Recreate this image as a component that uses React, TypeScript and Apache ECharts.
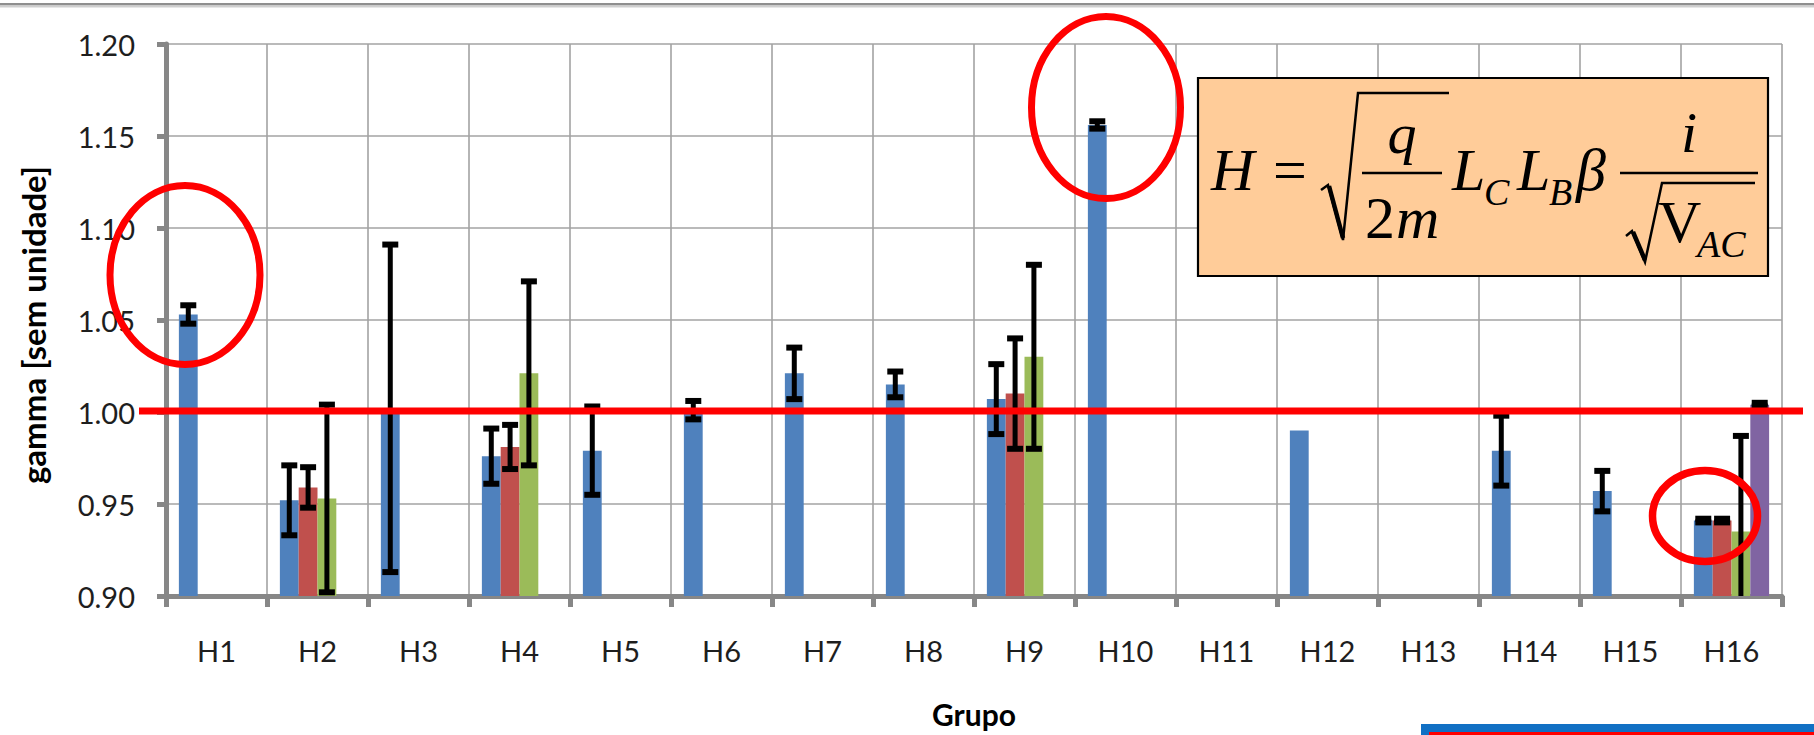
import React, { useEffect, useRef } from 'react';
import * as echarts from 'echarts';

// ---------- data ----------
const categories = ['H1', 'H2', 'H3', 'H4', 'H5', 'H6', 'H7', 'H8', 'H9', 'H10', 'H11', 'H12', 'H13', 'H14', 'H15', 'H16'];

const yMin = 0.9;
const yMax = 1.2;
const yInterval = 0.05;
const referenceValue = 1.0;

const blueValues = [1.053, 0.952, 1.002, 0.976, 0.979, 1.001, 1.021, 1.015, 1.007, 1.156, null, 0.99, null, 0.979, 0.957, 0.941];
const blueErrors = [0.005, 0.019, 0.089, 0.015, 0.024, 0.005, 0.014, 0.007, 0.019, 0.002, null, null, null, 0.019, 0.011, 0.001];

const redValues = [null, 0.959, null, 0.981, null, null, null, null, 1.01, null, null, null, null, null, null, 0.941];
const redErrors = [null, 0.011, null, 0.012, null, null, null, null, 0.03, null, null, null, null, null, null, 0.001];

const greenValues = [null, 0.953, null, 1.021, null, null, null, null, 1.03, null, null, null, null, null, null, 0.935];
const greenErrors = [null, 0.051, null, 0.05, null, null, null, null, 0.05, null, null, null, null, null, null, 0.052];

const purpleValues = [null, null, null, null, null, null, null, null, null, null, null, null, null, null, null, 1.004];
const purpleErrors = [null, null, null, null, null, null, null, null, null, null, null, null, null, null, null, 0.001];

// ---------- styles ----------
const W = 1814;
const H = 735;
const COLORS = ['#4F81BD', '#C0504D', '#9BBB59', '#8064A2'];
const CATEGORY_GAP = 0.255;
const SERIES_COUNT = 4;
const AXIS_COLOR = '#878787';
const GRID_COLOR = '#a3a3a3';
const TEXT_COLOR = '#1e1e1e';
const SERIF = '"Liberation Serif", "Times New Roman", serif';

function errorSeries(k: number, values: (number | null)[], errs: (number | null)[]) {
  const data: number[][] = [];
  values.forEach((v, i) => {
    const e = errs[i];
    if (v != null && e != null) data.push([i, v - e, v + e]);
  });
  return {
    type: 'custom',
    silent: true,
    z: 10,
    encode: { x: 0, y: [1, 2] },
    data,
    renderItem: (params: any, api: any) => {
      const idx = api.value(0);
      const rawLo = api.value(1);
      const lo = Math.max(rawLo, yMin);
      const hi = api.value(2);
      const band = api.size([1, 0])[0];
      const barW = (band * (1 - CATEGORY_GAP)) / SERIES_COUNT;
      const pLo = api.coord([idx, lo]);
      const pHi = api.coord([idx, hi]);
      const cx = pLo[0] + (k - (SERIES_COUNT - 1) / 2) * barW;
      const capHalf = 8;
      const st = { stroke: '#000', lineWidth: 5, lineCap: 'butt' };
      const capSt = { stroke: '#000', lineWidth: 6, lineCap: 'butt' };
      const children: any[] = [
        { type: 'line', shape: { x1: cx, y1: pLo[1], x2: cx, y2: pHi[1] }, style: st },
        { type: 'line', shape: { x1: cx - capHalf, y1: pHi[1], x2: cx + capHalf, y2: pHi[1] }, style: capSt },
      ];
      if (rawLo >= yMin) {
        children.push({ type: 'line', shape: { x1: cx - capHalf, y1: pLo[1], x2: cx + capHalf, y2: pLo[1] }, style: capSt });
      }
      return { type: 'group', children };
    },
  };
}

function barSeries(name: string, values: (number | null)[], color: string) {
  return {
    name,
    type: 'bar',
    data: values,
    barGap: '0%',
    barCategoryGap: `${CATEGORY_GAP * 100}%`,
    itemStyle: { color },
    silent: true,
  };
}

function serifText(text: string, x: number, baseline: number, size: number, italic: boolean, align = 'left') {
  return {
    type: 'text',
    z: 60,
    silent: true,
    style: {
      text,
      x,
      y: baseline - 0.3375 * size,
      fontFamily: SERIF,
      fontSize: size,
      fontStyle: italic ? 'italic' : 'normal',
      fill: '#000',
      align,
      verticalAlign: 'middle',
    },
  };
}

function buildGraphic(yRef: number) {
  const fl = { stroke: '#000', lineWidth: 2.5 };
  return [
    // top border
    { type: 'rect', z: 5, silent: true, shape: { x: 0, y: 3, width: W, height: 2.5 }, style: { fill: '#8f8f8f' } },
    { type: 'rect', z: 5, silent: true, shape: { x: 0, y: 5.5, width: W, height: 2 }, style: { fill: '#cfcfcf' } },
    // axis titles
    {
      type: 'text', z: 5, silent: true, x: 33, y: 325, rotation: Math.PI / 2,
      style: { text: 'gamma [sem unidade]', fontFamily: 'Lato', fontWeight: 'bold', fontSize: 33, fill: '#000', align: 'center', verticalAlign: 'middle' },
    },
    {
      type: 'text', z: 5, silent: true, x: 974, y: 714,
      style: { text: 'Grupo', fontFamily: 'Lato', fontWeight: 'bold', fontSize: 30, fill: '#000', align: 'center', verticalAlign: 'middle' },
    },
    // formula box
    { type: 'rect', z: 50, silent: true, shape: { x: 1198, y: 78, width: 570, height: 198 }, style: { fill: '#FFCC99', stroke: '#000', lineWidth: 2.2 } },
    serifText('H', 1211, 190, 60, true),
    serifText('=', 1273, 190, 60, false),
    { type: 'polyline', z: 60, silent: true, shape: { points: [[1321, 190], [1328, 185], [1343, 240], [1358, 93], [1449, 93]] }, style: { ...fl, fill: 'none' } },
    { type: 'line', z: 60, silent: true, shape: { x1: 1329, y1: 186, x2: 1343, y2: 238 }, style: { stroke: '#000', lineWidth: 4.5 } },
    serifText('q', 1402, 153, 58, true, 'center'),
    { type: 'line', z: 60, silent: true, shape: { x1: 1362, y1: 173, x2: 1442, y2: 173 }, style: fl },
    serifText('2', 1365, 238, 60, false),
    serifText('m', 1396, 238, 60, true),
    serifText('L', 1452, 190, 60, true),
    serifText('C', 1484, 205, 38, true),
    serifText('L', 1517, 190, 60, true),
    serifText('B', 1549, 205, 38, true),
    serifText('β', 1576, 190, 60, true),
    { type: 'line', z: 60, silent: true, shape: { x1: 1620, y1: 173, x2: 1758, y2: 173 }, style: fl },
    serifText('i', 1689, 152, 58, true, 'center'),
    { type: 'polyline', z: 60, silent: true, shape: { points: [[1626, 236], [1632, 231], [1645, 262], [1662, 183], [1755, 183]] }, style: { ...fl, fill: 'none' } },
    { type: 'line', z: 60, silent: true, shape: { x1: 1633, y1: 232, x2: 1645, y2: 260 }, style: { stroke: '#000', lineWidth: 4.5 } },
    serifText('V', 1658, 242, 60, false),
    serifText('AC', 1697, 257, 38, true),
    // reference line at 1.00
    { type: 'line', z: 100, silent: true, shape: { x1: 139, y1: yRef - 1, x2: 1803, y2: yRef - 1 }, style: { stroke: '#FF0000', lineWidth: 7 } },
    // highlight ellipses
    { type: 'ellipse', z: 100, silent: true, shape: { cx: 185, cy: 275, rx: 75, ry: 89.5 }, style: { fill: 'none', stroke: '#FF0000', lineWidth: 7 } },
    { type: 'ellipse', z: 100, silent: true, shape: { cx: 1106, cy: 107.5, rx: 74.5, ry: 91 }, style: { fill: 'none', stroke: '#FF0000', lineWidth: 7 } },
    { type: 'ellipse', z: 100, silent: true, shape: { cx: 1705, cy: 516, rx: 52.5, ry: 45.5 }, style: { fill: 'none', stroke: '#FF0000', lineWidth: 7.5 } },
    // bottom-right bar
    { type: 'rect', z: 5, silent: true, shape: { x: 1421, y: 724, width: 393, height: 11 }, style: { fill: '#1170C4' } },
    { type: 'rect', z: 6, silent: true, shape: { x: 1429, y: 732, width: 385, height: 3 }, style: { fill: '#FF0000' } },
  ];
}

export default function App() {
  const ref = useRef<HTMLDivElement>(null);

  useEffect(() => {
    if (!ref.current) return;
    const chart = echarts.init(ref.current, null, { renderer: 'svg', width: W, height: H });
    const option: any = {
      animation: false,
      backgroundColor: '#ffffff',
      grid: { left: 166, right: 32, top: 44, bottom: 139, containLabel: false, outerBoundsMode: 'none' },
      xAxis: {
        type: 'category',
        data: categories,
        boundaryGap: true,
        axisLine: { show: true, lineStyle: { color: AXIS_COLOR, width: 5 } },
        axisTick: { show: true, length: 11, lineStyle: { color: AXIS_COLOR, width: 5 } },
        axisLabel: { margin: 40, fontSize: 29, fontFamily: 'Lato', color: TEXT_COLOR, interval: 0 },
        splitLine: { show: true, lineStyle: { color: GRID_COLOR, width: 1.6 } },
      },
      yAxis: {
        type: 'value',
        min: yMin,
        max: yMax,
        interval: yInterval,
        axisLine: { show: true, lineStyle: { color: AXIS_COLOR, width: 5 } },
        axisTick: { show: true, length: 9, lineStyle: { color: AXIS_COLOR, width: 5 } },
        axisLabel: { margin: 31, fontSize: 29, fontFamily: 'Lato', color: TEXT_COLOR, formatter: (v: number) => v.toFixed(2) },
        splitLine: { show: true, lineStyle: { color: GRID_COLOR, width: 1.6 } },
      },
      series: [
        barSeries('Série 1', blueValues, COLORS[0]),
        barSeries('Série 2', redValues, COLORS[1]),
        barSeries('Série 3', greenValues, COLORS[2]),
        barSeries('Série 4', purpleValues, COLORS[3]),
        errorSeries(0, blueValues, blueErrors),
        errorSeries(1, redValues, redErrors),
        errorSeries(2, greenValues, greenErrors),
        errorSeries(3, purpleValues, purpleErrors),
      ],
    };
    chart.setOption(option);
    const yRef = chart.convertToPixel({ yAxisIndex: 0 }, referenceValue) as number;
    chart.setOption({ graphic: buildGraphic(yRef) });
    return () => chart.dispose();
  }, []);

  return (
    <div
      ref={ref}
      style={{ position: 'fixed', left: 0, top: 0, width: W, height: H, background: '#fff' }}
    />
  );
}
